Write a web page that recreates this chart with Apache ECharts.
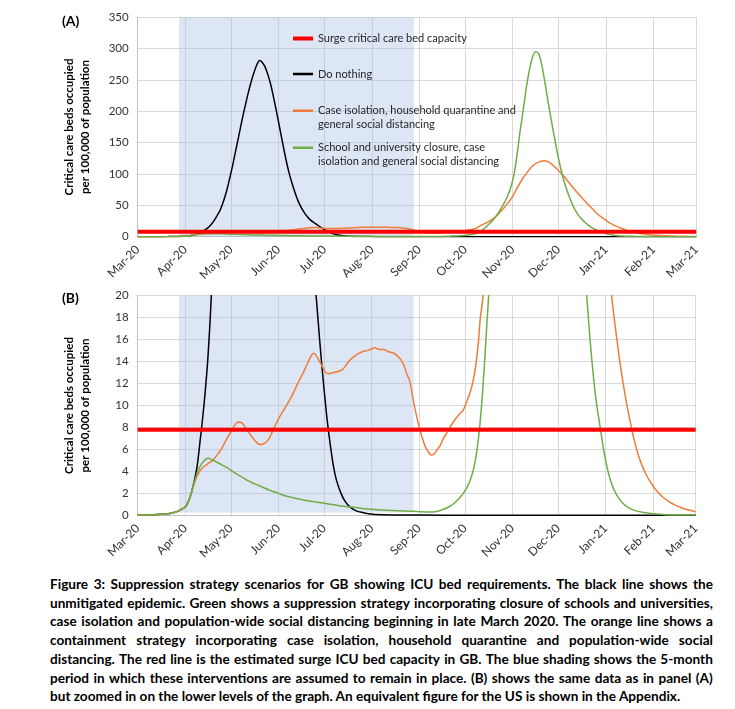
<!DOCTYPE html>
<html>
<head>
<meta charset="utf-8">
<script src="https://cdn.jsdelivr.net/npm/echarts@6/dist/echarts.min.js"></script>
<style>
html,body{margin:0;padding:0;background:#fff;}
#wrap{position:relative;width:735px;height:709px;overflow:hidden;}
#chart{position:absolute;left:0;top:0;width:735px;height:575px;}
#caption{position:absolute;left:50px;top:575px;width:663px;font-family:Lato,sans-serif;font-weight:bold;font-size:13.6px;line-height:18.7px;color:#000;}
.jl{display:flex;justify-content:space-between;white-space:nowrap;}
.ll{white-space:nowrap;}
</style>
</head>
<body>
<div id="wrap">
<div id="chart"></div>
<div id="caption"></div>
</div>
<script>
// ---- data (day offsets from 1 Mar 2020, values per 100,000) ----
const monthNames = ['Jan','Feb','Mar','Apr','May','Jun','Jul','Aug','Sep','Oct','Nov','Dec'];
const seriesNames = ['Surge critical care bed capacity','Do nothing','Case isolation, household quarantine and\ngeneral social distancing','School and university closure, case\nisolation and general social distancing'];
const surgeCapacity = 7.8;
const shadeStartDay = 27;
const shadeEndDay = 180.5;

const blackDays = [0,10,20,25,28,31,33,35,37,39,41,42,44,46,48,50,52,54,56,58,60,62,64,66,68,70,72,74,76,78,79.5,81,83,85,87,89,91,93,95,97,99,101,103,105,107,109,111,113,115,117,119,121,123,124.5,126,128,130,133,136,139,143,147,152,160,175,200,250,365];
const blackValues = [0.02,0.05,0.15,0.3,0.5,0.75,1.2,2,3.1,4.6,7,8.2,11,14.5,19.5,26,34,43,56,72,92,113,137,160,184,206,227,246,262,275,281,279,272,259,242,220,196,171,146,122,101,84,69,56,46,38,31.5,26.5,22.8,19.5,16,12.8,9.9,8,6.4,4.5,3.2,2,1.2,0.75,0.4,0.25,0.12,0.06,0.03,0.01,0,0];

const orangeDays = [0,10,20,25,28,31,33,35,37,39,41,43,45,47,49,52,55,58,61,64,66,68,70,72,75,78,80,82,84,86,88,90,93,96,99,102,105,108,111,113,115,117,119,121,123,125,128,131,134,136,138,141,144,147,150,153,155,158,161,164,167,170,172,174,176,178,180,182,184,186,188,190,192,194,196,198,200,203,205,208,211,213,215,217,219,221,223,224,226,230,234,238,242,245,248,252,255,258,262,266,270,274,278,282,286,290,293,297,300,304,307,310,313,316,319,321.5,324,327,330,333,336,340,344,348,352,356,360,365];
const orangeValues = [0.03,0.05,0.15,0.3,0.5,0.75,1.2,2,2.9,3.6,4.1,4.4,4.6,4.8,5.0,5.5,6.1,6.9,7.6,8.3,8.5,8.45,8.1,7.7,7.1,6.6,6.45,6.5,6.65,7.0,7.6,8.2,9.0,9.7,10.4,11.2,12.1,12.9,13.8,14.4,14.75,14.5,14.0,13.5,13.0,12.9,13.0,13.1,13.3,13.6,14.0,14.4,14.7,14.9,15.0,15.15,15.25,15.1,15.1,14.9,14.8,14.5,14.2,13.7,12.9,12.2,10.7,9.3,8.1,7.1,6.3,5.8,5.5,5.6,6.0,6.4,7.0,7.7,8.2,8.8,9.3,9.6,10.3,11.0,12.0,13.5,16,17.8,20,25,32,42,54,64,78,94,104,113,119,121,117,108,98,86,74,63,55,45,37.5,29.5,24.5,20,16.5,13.4,10.8,9,7.3,5.7,4.5,3.6,2.9,2.15,1.6,1.2,0.9,0.67,0.5,0.33];

const greenDays = [0,10,20,25,28,31,33,35,37,39,41,43,45,46.5,48,51,55,59,63,68,72,76,81,86,92,97,103,110,115,120,126,133,140,146,153,160,170,180,186,193,197,201,204,207,210,213,216,218,220,222,224,226,228,230,232,234,236,238,240,242,244,246,248,250,252,254,256,258,260,262,264,266,268,270,272,274,276,278,280,282,284,286,288,290,292,294,296,298,300,303,305,308,311,314,317,321,326,331,337,345,365];
const greenValues = [0.03,0.05,0.15,0.3,0.5,0.75,1.2,2,3,3.9,4.5,4.9,5.15,5.2,5.1,4.9,4.6,4.3,3.9,3.5,3.15,2.9,2.6,2.3,2.0,1.75,1.55,1.35,1.25,1.15,1.0,0.85,0.75,0.65,0.55,0.48,0.42,0.38,0.33,0.3,0.4,0.6,0.8,1.1,1.5,2.0,2.7,3.4,4.4,6,8.5,12,16.5,21,26,32,39,47,56,66,80,100,132,170,203,238,266,286,295,292,275,248,218,190,163,137,114,94,78,64,52,42,34.5,28.5,23.5,19.5,15.8,12.8,10.3,7.6,5.8,3.8,2.5,1.7,1.15,0.7,0.4,0.25,0.15,0.06,0.02];

const topTicks = {min:0, max:350, interval:50};
const bottomTicks = {min:0, max:20, interval:2};

const captionLines = [
 'Figure 3: Suppression strategy scenarios for GB showing ICU bed requirements. The black line shows the',
 'unmitigated epidemic. Green shows a suppression strategy incorporating closure of schools and universities,',
 'case isolation and population-wide social distancing beginning in late March 2020. The orange line shows a',
 'containment strategy incorporating case isolation, household quarantine and population-wide social',
 'distancing. The red line is the estimated surge ICU bed capacity in GB.  The blue shading shows the 5-month',
 'period in which these interventions are assumed to remain in place. (B) shows the same data as in panel (A)',
 'but zoomed in on the lower levels of the graph. An equivalent figure for the US is shown in the Appendix.'
];

// ---- build ----
const DAY = 86400000;
const T0 = new Date(2020, 2, 1).getTime();
const T1 = new Date(2021, 2, 1).getTime();
const t = d => T0 + d * DAY;
const pairs = (days, vals) => days.map((d, i) => [t(d), vals[i]]);

const FONT = 'Lato, sans-serif';
const colors = {red:'#ff0000', black:'#000000', orange:'#ef7d3a', green:'#70ad47'};

function xAxis(gi){
  return {
    type:'time', gridIndex:gi, min:T0, max:T1,
    splitNumber:12, minInterval:28*DAY, maxInterval:31*DAY,
    axisLine:{show:true, lineStyle:{color:'#bfbfbf', width:1}},
    axisTick:{show:false},
    splitLine:{show:true, lineStyle:{color:'#d9d9d9', width:1}},
    axisLabel:{
      rotate:45, margin:11, fontFamily:FONT, fontSize:12, color:'#333',
      showMinLabel:true, showMaxLabel:true, hideOverlap:false,
      formatter:function(v){ const d=new Date(v); return monthNames[d.getMonth()]+'-'+String(d.getFullYear()).slice(2); }
    }
  };
}
function yAxis(gi, tk){
  return {
    type:'value', gridIndex:gi, min:tk.min, max:tk.max, interval:tk.interval,
    name:'Critical care beds occupied\nper 100,000 of population',
    nameLocation:'middle', nameGap:44, nameRotate:90,
    nameTextStyle:{fontFamily:FONT, fontWeight:'bold', fontSize:11.5, lineHeight:16, color:'#000'},
    axisLine:{show:true, lineStyle:{color:'#bfbfbf', width:1}},
    axisTick:{show:false},
    splitLine:{show:true, lineStyle:{color:'#d9d9d9', width:1}},
    axisLabel:{fontFamily:FONT, fontSize:11.5, color:'#333', margin:9}
  };
}
function lineSeries(name, gi, data, color, width, extra){
  return Object.assign({
    type:'line', name:name, xAxisIndex:gi, yAxisIndex:gi, data:data,
    showSymbol:false, symbol:'none', smooth:0.3, clip:true,
    color:color, itemStyle:{color:color},
    lineStyle:{color:color, width:width}, silent:true
  }, extra||{});
}
function shade(gi, y0, y1){
  return {silent:true, itemStyle:{color:'rgba(160,185,225,0.36)'},
    data:[[{xAxis:t(shadeStartDay), yAxis:y0},{xAxis:t(shadeEndDay), yAxis:y1}]]};
}

const series = [];
[[0, topTicks],[1, bottomTicks]].forEach(([gi, tk])=>{
  series.push(lineSeries(seriesNames[1], gi, pairs(blackDays, blackValues), colors.black, 1.5,
    {markArea: shade(gi, gi===0 ? 0 : 0.25, tk.max)}));
  series.push(lineSeries(seriesNames[2], gi, pairs(orangeDays, orangeValues), colors.orange, 1.5));
  series.push(lineSeries(seriesNames[3], gi, pairs(greenDays, greenValues), colors.green, 1.5));
  series.push(lineSeries(seriesNames[0], gi, [[T0, surgeCapacity],[T1, surgeCapacity]], colors.red, 4, {smooth:false}));
});

const icon1 = 'path://M0,0h0.01v0.01h-0.01zM0,5.75h20v2.5h-20zM19.99,13.99h0.01v0.01h-0.01z';
const iconRed = 'path://M0,0h0.01v0.01h-0.01zM0,5h20v4h-20zM19.99,13.99h0.01v0.01h-0.01z';
const icon2 = 'path://M0,0h0.01v0.01h-0.01zM0,5.75h20v2.5h-20zM19.99,27.99h0.01v0.01h-0.01z';
function legend(name, top, icon, h){
  return {show:true, left:293, top:top, padding:0, itemWidth:20, itemHeight:h, icon:icon,
    selectedMode:false, data:[name], itemStyle:{borderWidth:0},
    textStyle:{fontFamily:FONT, fontSize:11, lineHeight:14.2, color:'#262626'}};
}

const option = {
  animation:false,
  grid:[
    {left:137.7, top:17.3, width:558.5, height:219.4},
    {left:137.7, top:295.7, width:558, height:219.6}
  ],
  xAxis:[xAxis(0), xAxis(1)],
  yAxis:[yAxis(0, topTicks), yAxis(1, bottomTicks)],
  legend:[
    legend(seriesNames[0], 31.3, iconRed, 14),
    legend(seriesNames[1], 67, icon1, 14),
    legend(seriesNames[2], 103.6, icon2, 28.4),
    legend(seriesNames[3], 140.6, icon2, 28.4)
  ],
  graphic:[
    {type:'text', left:62, top:14, style:{text:'(A)', font:'bold 14px Lato', fill:'#000'}},
    {type:'text', left:62, top:291, style:{text:'(B)', font:'bold 14px Lato', fill:'#000'}}
  ],
  series:series
};

const chart = echarts.init(document.getElementById('chart'), null, {renderer:'canvas'});
chart.setOption(option);

// caption
const cap = document.getElementById('caption');
captionLines.forEach((line, i)=>{
  const div = document.createElement('div');
  if (i < captionLines.length - 1) {
    div.className = 'jl';
    line.split(/\s+/).forEach(w=>{ const s=document.createElement('span'); s.textContent=w; div.appendChild(s); });
  } else {
    div.className = 'll';
    div.textContent = line;
  }
  cap.appendChild(div);
});
</script>
</body>
</html>
